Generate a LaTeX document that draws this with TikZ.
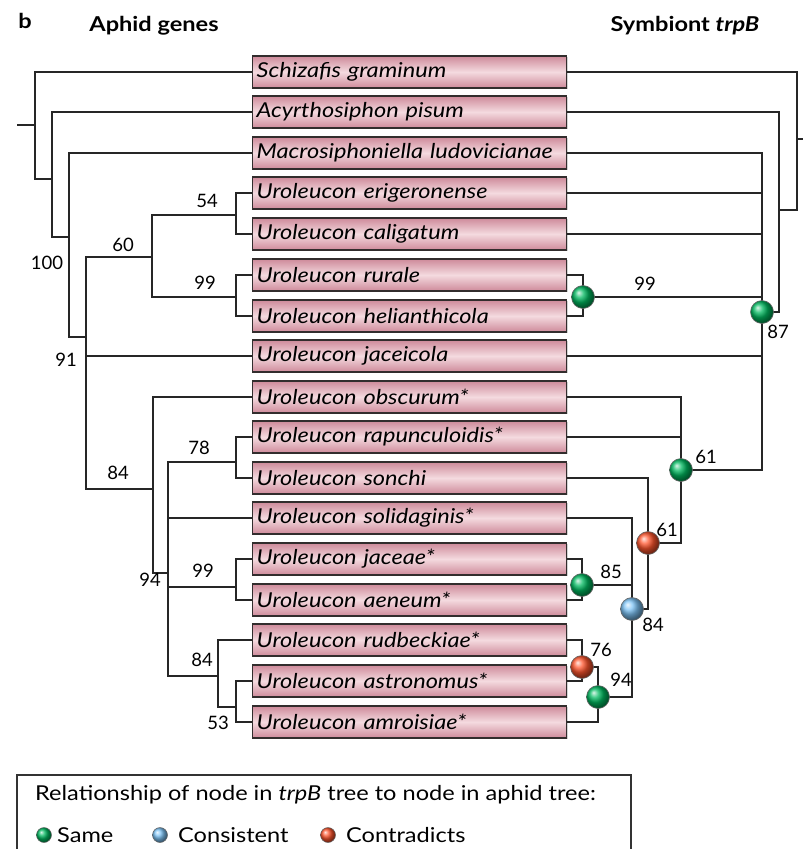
\documentclass[tikz,border=0pt]{standalone}
\usepackage{fontspec}
\setmainfont{Lato}
\newfontfamily\wfont[FakeStretch=1.15]{Lato}
\usetikzlibrary{shadows}
\definecolor{boxdark}{RGB}{206,138,154}
\definecolor{boxlight}{RGB}{244,218,223}
\definecolor{boxline}{RGB}{50,45,45}
\definecolor{gsame}{RGB}{0,185,95}
\definecolor{bcons}{RGB}{125,195,245}
\definecolor{rcontra}{RGB}{255,85,45}
\tikzset{
  taxon/.style={anchor=west, draw=boxline, line width=1.4pt, top color=boxdark, bottom color=boxdark, middle color=boxlight,
    text width=306pt, inner xsep=4pt, inner ysep=0pt, minimum height=32pt, align=left,
    font=\wfont\fontsize{20.5}{22}\selectfont\itshape, drop shadow={shadow xshift=0.8pt, shadow yshift=-0.8pt, opacity=0.35}},
  branch/.style={line width=1.9pt, draw=black!85},
  sup/.style={font=\fontsize{18.5}{20}\selectfont, inner sep=0pt},
  cnode/.style={circle, inner sep=0pt, minimum size=23pt, draw=black!60, line width=0.6pt, ball color=#1},
  lnode/.style={circle, inner sep=0pt, minimum size=15pt, draw=black!60, line width=0.5pt, ball color=#1},
  head/.style={font=\wfont\fontsize{20.5}{22}\selectfont\bfseries, inner sep=0pt},
  legtext/.style={font=\wfont\fontsize{20.5}{22}\selectfont, inner sep=0pt, anchor=west}
}
\begin{document}
\begin{tikzpicture}[x=1pt,y=-1pt]
\useasboundingbox (0,0) rectangle (803,849);
% headings
\node[head] (hb) at (25,21) {b};
\node[head] (ha) at (154,26) {Aphid genes};
\node[head] (hs) at (685,26) {Symbiont \textit{trpB}};
% taxa
\foreach \i/\yy/\name in {0/72/Schizafis graminum,1/112/Acyrthosiphon pisum,2/153/Macrosiphoniella ludovicianae,
  3/193/Uroleucon erigeronense,4/234/Uroleucon caligatum,5/275/Uroleucon rurale,6/316/Uroleucon helianthicola,
  7/356/Uroleucon jaceicola,8/397/Uroleucon obscurum*,9/437/Uroleucon rapunculoidis*,10/478/Uroleucon sonchi,
  11/518/Uroleucon solidaginis*,12/559/Uroleucon jaceae*,13/600/Uroleucon aeneum*,14/640/Uroleucon rudbeckiae*,
  15/681/Uroleucon astronomus*,16/722/Uroleucon amroisiae*}
  \node[taxon] (t\i) at (252,\yy) {\name};
% left tree coordinates
\coordinate (Lstub) at (17,125);
\coordinate (L0) at (35,125);
\coordinate (L1) at (52,179);
\coordinate (L2) at (69,237);
\coordinate (L3) at (86,337);
\coordinate (L4) at (152,257);
\coordinate (L6) at (236,215);
\coordinate (L7) at (236,297);
\coordinate (L5) at (153,489);
\coordinate (L8) at (168,573);
\coordinate (L9) at (236,462);
\coordinate (L10) at (236,587);
\coordinate (L11) at (218,676);
\coordinate (L12) at (236,707);
\draw[branch] (Lstub) -- (L0);
\draw[branch] (L0) |- (t0.west);
\draw[branch] (L0) |- (L1);
\draw[branch] (L1) |- (t1.west);
\draw[branch] (L1) |- (L2);
\draw[branch] (L2) |- (t2.west);
\draw[branch] (L2) |- (L3);
\draw[branch] (L3) |- (L4);
\draw[branch] (L3) |- (t7.west);
\draw[branch] (L3) |- (L5);
\draw[branch] (L4) |- (L6);
\draw[branch] (L4) |- (L7);
\draw[branch] (L6) |- (t3.west);
\draw[branch] (L6) |- (t4.west);
\draw[branch] (L7) |- (t5.west);
\draw[branch] (L7) |- (t6.west);
\draw[branch] (L5) |- (t8.west);
\draw[branch] (L5) |- (L8);
\draw[branch] (L8) |- (L9);
\draw[branch] (L8) |- (t11.west);
\draw[branch] (L8) |- (L10);
\draw[branch] (L8) |- (L11);
\draw[branch] (L9) |- (t9.west);
\draw[branch] (L9) |- (t10.west);
\draw[branch] (L10) |- (t12.west);
\draw[branch] (L10) |- (t13.west);
\draw[branch] (L11) |- (t14.west);
\draw[branch] (L11) |- (L12);
\draw[branch] (L12) |- (t15.west);
\draw[branch] (L12) |- (t16.west);
% left support values
\node[sup] (s100) at (47,263) {100};
\node[sup] (s91) at (66,360) {91};
\node[sup] (s60) at (123,245) {60};
\node[sup] (s54) at (207,201) {54};
\node[sup] (s99a) at (205,283) {99};
\node[sup] (s84a) at (118,473) {84};
\node[sup] (s94) at (150,580) {94};
\node[sup] (s78) at (199,448) {78};
\node[sup] (s99b) at (203,571) {99};
\node[sup] (s84b) at (202,660) {84};
\node[sup] (s53) at (218,723) {53};
% right tree coordinates
\coordinate (Rstub) at (804,139);
\coordinate (R0) at (797,139);
\coordinate (R1) at (779,210);
\coordinate (R2) at (762,312);
\coordinate (R3) at (583,297);
\coordinate (R4) at (681,470);
\coordinate (R5) at (648,543);
\coordinate (R6) at (632,609);
\coordinate (R7) at (582,585);
\coordinate (R8) at (598,697);
\coordinate (R9) at (582,667);
\draw[branch] (Rstub) -- (R0);
\draw[branch] (R0) |- (t0.east);
\draw[branch] (R0) |- (R1);
\draw[branch] (R1) |- (t1.east);
\draw[branch] (R1) |- (R2);
\draw[branch] (R2) |- (t2.east);
\draw[branch] (R2) |- (t3.east);
\draw[branch] (R2) |- (t4.east);
\draw[branch] (R2) |- (R3);
\draw[branch] (R2) |- (t7.east);
\draw[branch] (R2) |- (R4);
\draw[branch] (R3) |- (t5.east);
\draw[branch] (R3) |- (t6.east);
\draw[branch] (R4) |- (t8.east);
\draw[branch] (R4) |- (t9.east);
\draw[branch] (R4) |- (R5);
\draw[branch] (R5) |- (t10.east);
\draw[branch] (R5) |- (R6);
\draw[branch] (R6) |- (t11.east);
\draw[branch] (R6) |- (R7);
\draw[branch] (R6) |- (R8);
\draw[branch] (R7) |- (t12.east);
\draw[branch] (R7) |- (t13.east);
\draw[branch] (R8) |- (R9);
\draw[branch] (R8) |- (t16.east);
\draw[branch] (R9) |- (t14.east);
\draw[branch] (R9) |- (t15.east);
% circles
\node[cnode=gsame] (c87) at (R2) {};
\node[cnode=gsame] (c99) at (R3) {};
\node[cnode=gsame] (c61a) at (R4) {};
\node[cnode=rcontra] (c61b) at (R5) {};
\node[cnode=bcons] (c84) at (R6) {};
\node[cnode=gsame] (c85) at (R7) {};
\node[cnode=gsame] (c94) at (R8) {};
\node[cnode=rcontra] (c76) at (R9) {};
% right support values
\node[sup] (r87) at (778,332) {87};
\node[sup] (r99) at (645,284) {99};
\node[sup] (r61a) at (706,457) {61};
\node[sup] (r61b) at (667,530) {61};
\node[sup] (r84) at (653,625) {84};
\node[sup] (r85) at (611,572) {85};
\node[sup] (r94) at (621,680) {94};
\node[sup] (r76) at (601,650) {76};
% legend
\draw[line width=1.4pt, draw=black!80] (17,860) -- (17,775) -- (631,775) -- (631,860);
\node[legtext] (lt) at (35,795) {Relationship of node in \textit{trpB} tree to node in aphid tree:};
\node[lnode=gsame] (lg) at (44,835) {};
\node[legtext] (lgt) at (57,835) {Same};
\node[lnode=bcons] (lb) at (160,835) {};
\node[legtext] (lbt) at (178,835) {Consistent};
\node[lnode=rcontra] (lr) at (328,835) {};
\node[legtext] (lrt) at (346,835) {Contradicts};
\end{tikzpicture}
\end{document}
